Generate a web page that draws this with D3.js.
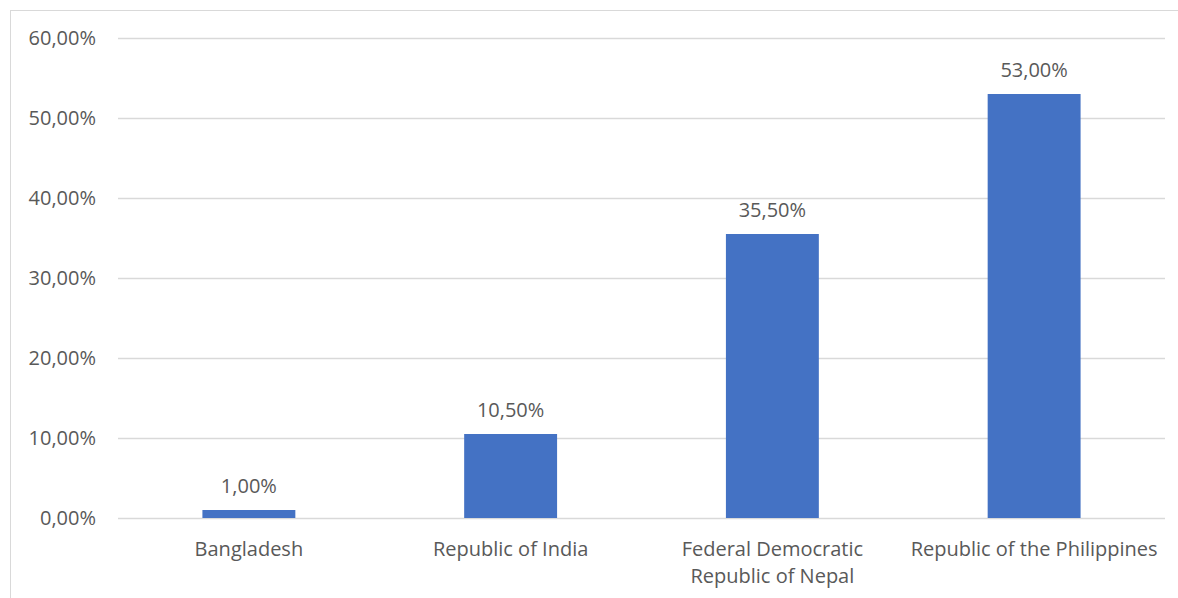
<!DOCTYPE html>
<html>
<head>
<meta charset="utf-8">
<script src="https://cdn.jsdelivr.net/npm/d3@7"></script>
<style>
  html, body { margin: 0; padding: 0; background: #fff; }
  svg { display: block; }
  text { font-family: "Open Sans", "Liberation Sans", sans-serif; fill: #595959; }
</style>
</head>
<body>
<svg id="chart" width="1178" height="598"></svg>
<script>
// Share of respondents by country
const categories = ["Bangladesh", "Republic of India", "Federal Democratic Republic of Nepal", "Republic of the Philippines"];
const categoryLines = [["Bangladesh"], ["Republic of India"], ["Federal Democratic", "Republic of Nepal"], ["Republic of the Philippines"]];
const values = [1.0, 10.5, 35.5, 53.0];
const yTicks = [0, 10, 20, 30, 40, 50, 60];

const W = 1178, H = 598;
const margin = { left: 118, right: 13, top: 38, bottom: 80 };
const FS = 20;
const svg = d3.select("#chart");

// Chart frame
svg.append("rect")
  .attr("x", 10.5).attr("y", 10.5)
  .attr("width", W + 20).attr("height", H + 20)
  .attr("fill", "none").attr("stroke", "#d9d9d9").attr("stroke-width", 1);

const x = d3.scaleBand()
  .domain(categories)
  .range([margin.left, W - margin.right])
  .paddingInner(0.645).paddingOuter(0.3225);

const y = d3.scaleLinear().domain([0, 60]).range([H - margin.bottom, margin.top]);

const fmt = v => v.toFixed(2).replace(".", ",") + "%";

// Horizontal gridlines
svg.append("g").selectAll("line").data(yTicks).join("line")
  .attr("x1", margin.left).attr("x2", W - margin.right)
  .attr("y1", d => Math.round(y(d)) + 0.5).attr("y2", d => Math.round(y(d)) + 0.5)
  .attr("stroke", "#d9d9d9").attr("stroke-width", 1.3);

// Y axis labels
const yAxis = d3.axisLeft(y).tickValues(yTicks).tickFormat(fmt).tickSize(0).tickPadding(22);
const gy = svg.append("g").attr("transform", `translate(${margin.left},0)`).call(yAxis);
gy.select(".domain").remove();
gy.selectAll("text").attr("font-size", FS).style("font-family", '"Open Sans", sans-serif').attr("fill", "#595959");

// Bars
svg.append("g").selectAll("rect").data(values).join("rect")
  .attr("x", (d, i) => x(categories[i]))
  .attr("width", x.bandwidth())
  .attr("y", d => y(d))
  .attr("height", d => y(0) - y(d))
  .attr("fill", "#4472c4");

// Value labels
svg.append("g").selectAll("text").data(values).join("text")
  .attr("x", (d, i) => x(categories[i]) + x.bandwidth() / 2)
  .attr("y", d => y(d) - 17)
  .attr("text-anchor", "middle")
  .attr("font-size", FS)
  .text(fmt);

// Category labels
const cat = svg.append("g").selectAll("text").data(categories).join("text")
  .attr("x", d => x(d) + x.bandwidth() / 2)
  .attr("y", 556)
  .attr("text-anchor", "middle")
  .attr("font-size", FS);
cat.each(function(d, i) {
  const t = d3.select(this);
  categoryLines[i].forEach((line, j) => {
    t.append("tspan").attr("x", x(d) + x.bandwidth() / 2).attr("dy", j === 0 ? 0 : 27).text(line);
  });
});
</script>
</body>
</html>
